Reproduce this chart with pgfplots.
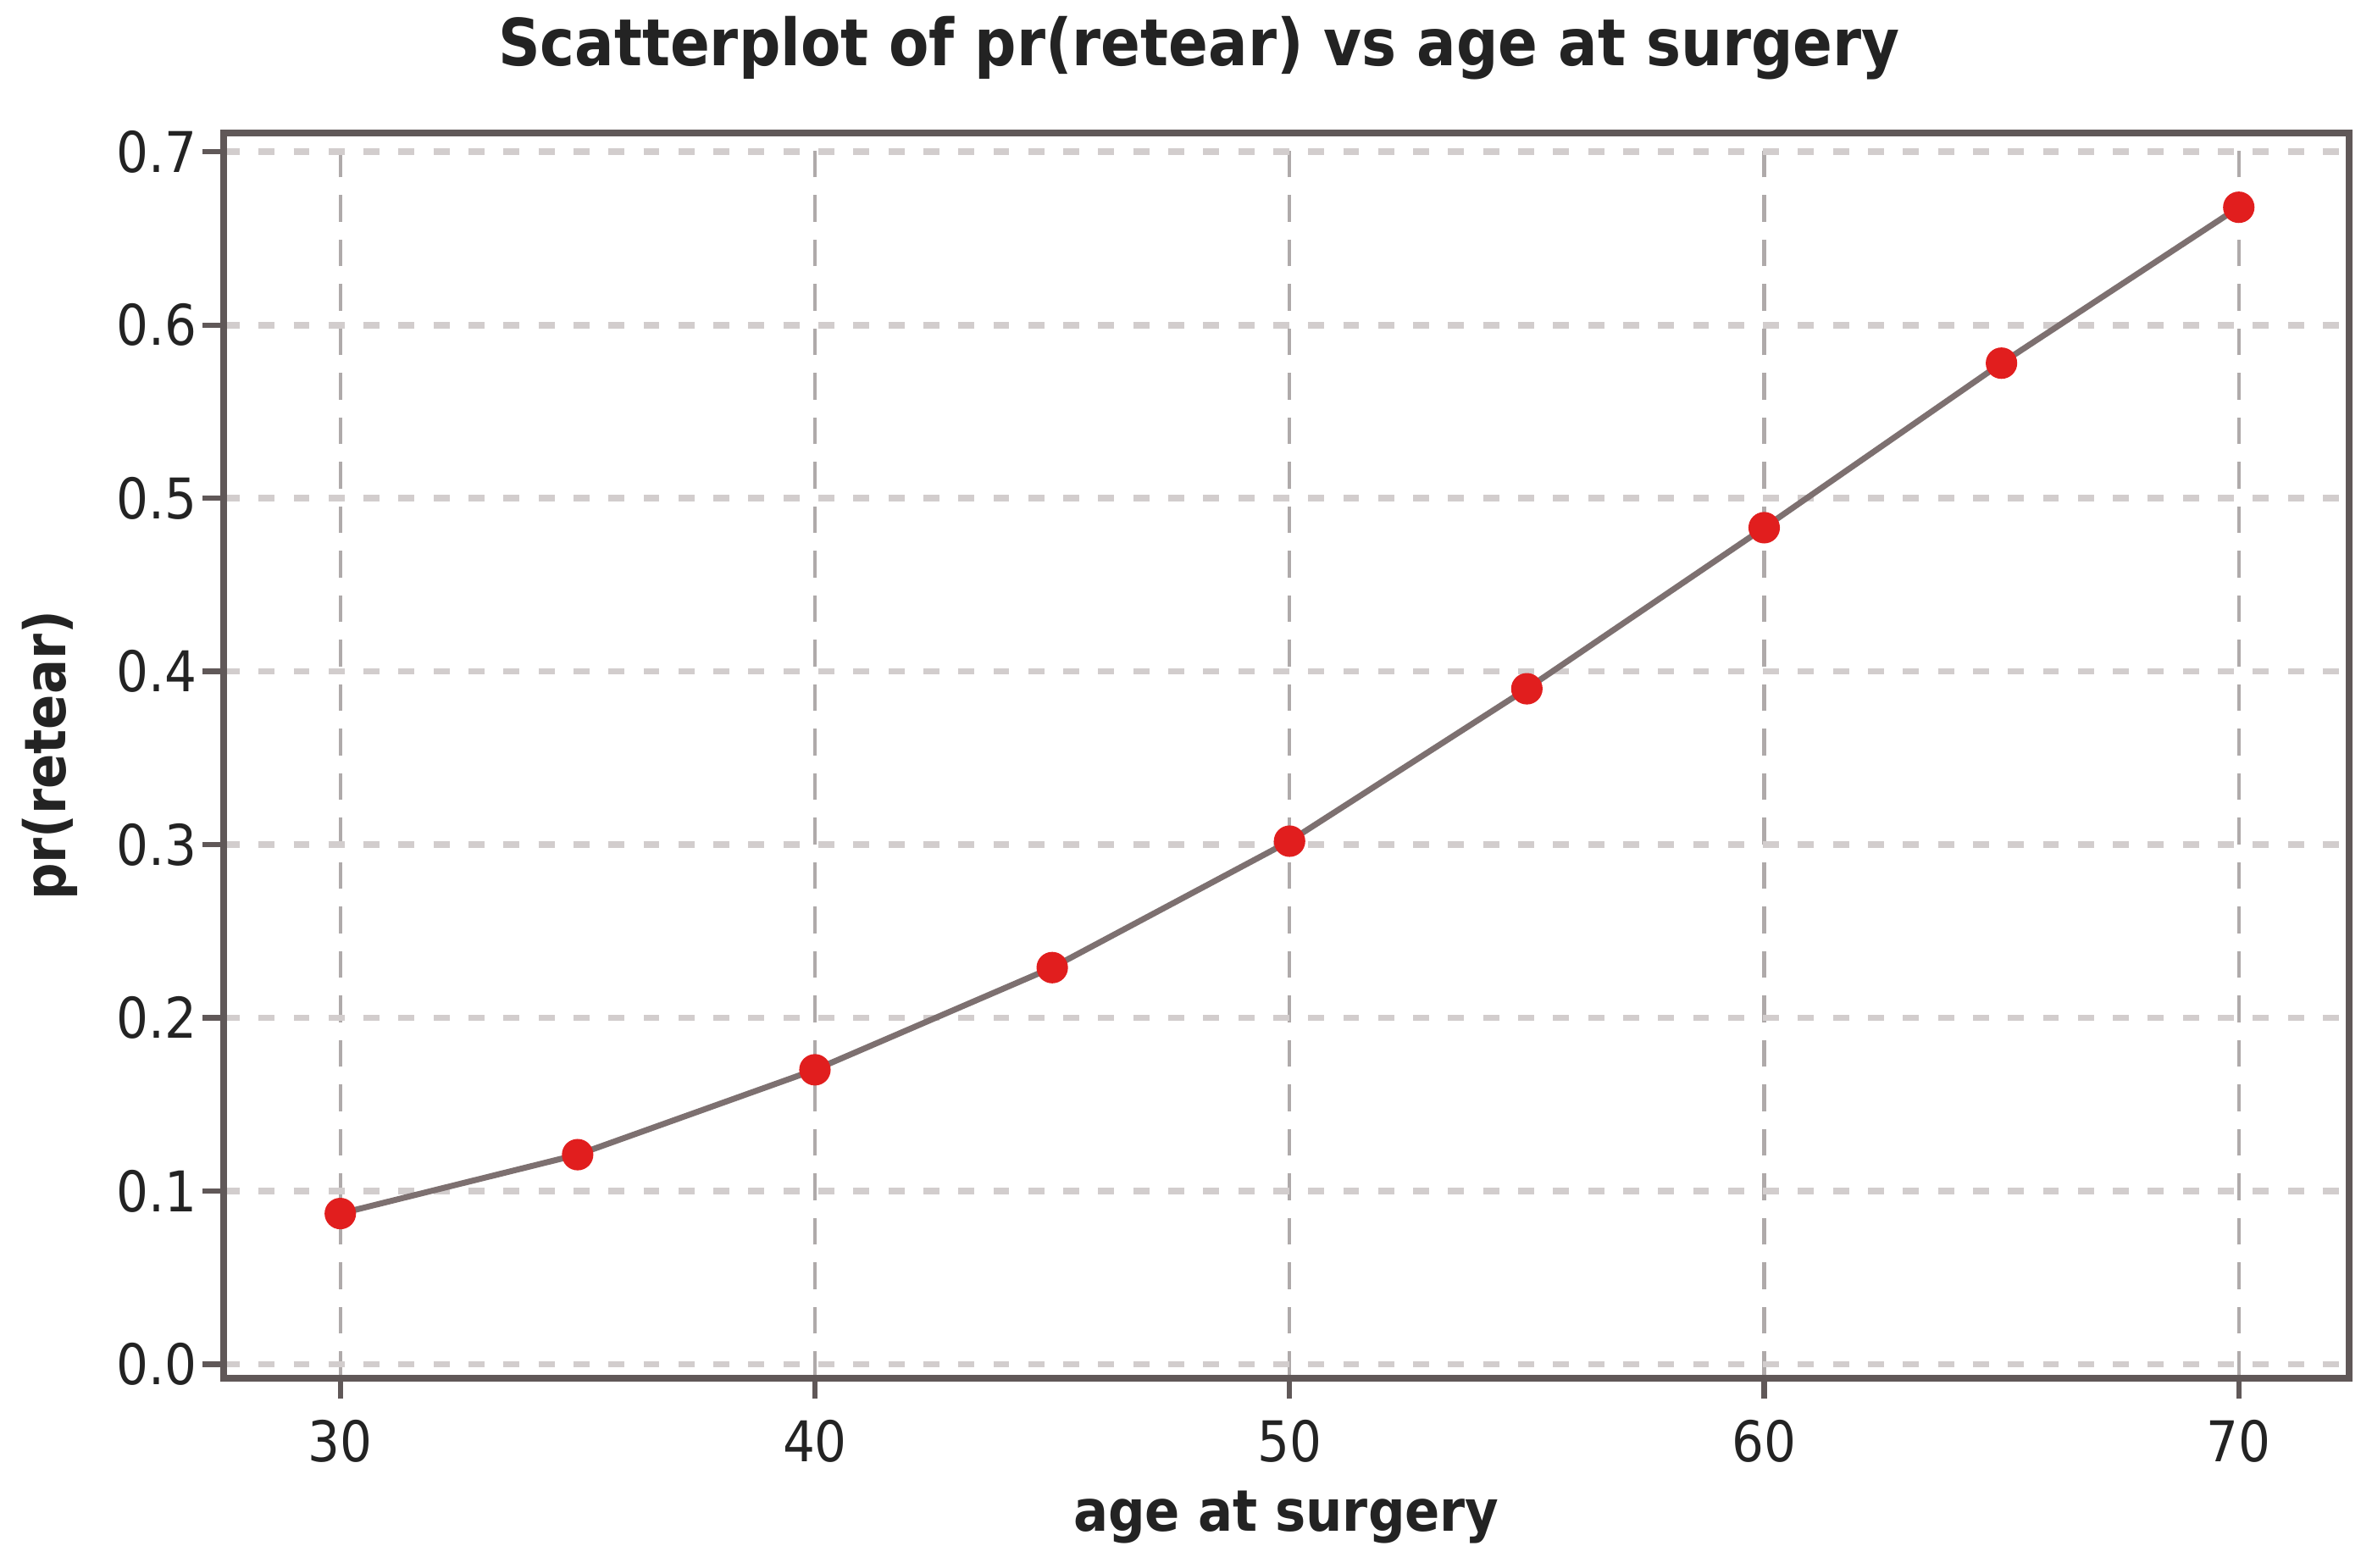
\documentclass[border=0pt]{standalone}
\usepackage{pgfplots}
\pgfplotsset{compat=1.18}
\usepackage{fontspec}
\setmainfont{DejaVu Sans Condensed}[BoldFont={DejaVu Sans Condensed Bold}]
\definecolor{framec}{RGB}{96,88,88}
\definecolor{gridh}{RGB}{210,205,205}
\definecolor{gridv}{RGB}{175,170,170}
\definecolor{linec}{RGB}{125,112,112}
\definecolor{markc}{RGB}{225,30,30}
\definecolor{txt}{RGB}{35,35,35}
\begin{document}
\begin{tikzpicture}
\useasboundingbox (-37.7bp,-31.9bp) rectangle (362.3bp,232.4bp);
\begin{axis}[
  at={(0,0)}, anchor=south west,
  scale only axis,
  width=358.4bp, height=210bp,
  xmin=27.54, xmax=72.32,
  ymin=-0.008, ymax=0.711,
  xtick={30,40,50,60,70},
  ytick={0,0.1,0.2,0.3,0.4,0.5,0.6,0.7},
  /pgf/number format/assume math mode=true,
  yticklabel style={/pgf/number format/.cd,fixed,fixed zerofill,precision=1,/tikz/.cd,xshift=2.5bp},
  ticklabel style={font=\fontsize{9.5}{10}\selectfont, text=txt},
  tick align=outside,
  major tick length=3.5bp,
  tick style={framec, line width=0.9bp},
  xtick pos=bottom, ytick pos=left,
  axis line style={framec, line width=1.1bp},
  xmajorgrids, ymajorgrids,
  x grid style={gridv, line width=0.6bp, dash pattern=on 4.5bp off 3bp},
  y grid style={gridh, line width=1.1bp, dash pattern=on 2.7bp off 3.2bp},
  title={Scatterplot of pr(retear) vs age at surgery},
  title style={font=\bfseries\fontsize{11}{12}\selectfont, text=txt,
    at={(axis description cs:0.459,1)}, anchor=center, yshift=8.3bp},
  xlabel={age at surgery},
  ylabel={pr(retear)},
  label style={font=\bfseries\fontsize{9.7}{11}\selectfont, text=txt},
  xlabel style={at={(axis description cs:0.5,-0.1114)}, anchor=center},
  ylabel style={at={(axis description cs:-0.0818,0.5)}, anchor=center},
]
\addplot[linec, line width=1bp, mark=*, mark size=2.15bp,
  mark options={markc, draw=markc, fill=markc}]
  coordinates {
  (30,0.087) (35,0.121) (40,0.170) (45,0.229) (50,0.302)
  (55,0.390) (60,0.483) (65,0.578) (70,0.668)
  };
\end{axis}
\end{tikzpicture}
\end{document}
